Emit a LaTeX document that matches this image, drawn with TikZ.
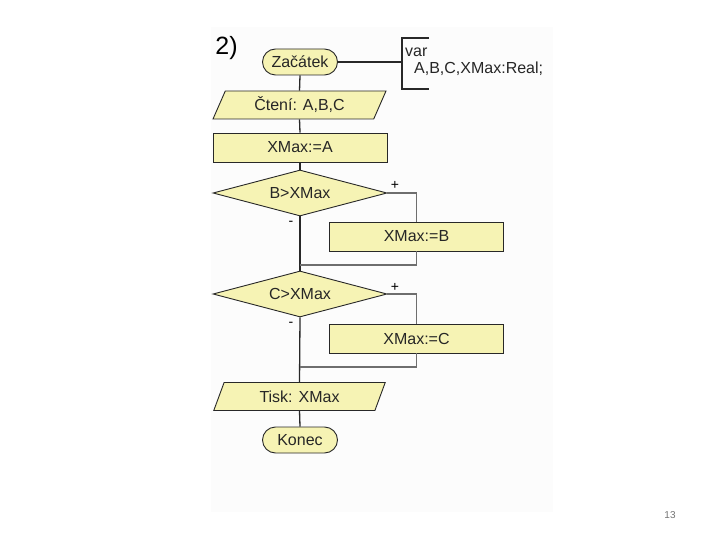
\documentclass[tikz,border=0pt]{standalone}
\usepackage{fontspec}
\setmainfont{Liberation Sans}
\usetikzlibrary{shapes.geometric}
\definecolor{boxfill}{RGB}{246,243,180}
\definecolor{mainline}{RGB}{40,40,40}
\definecolor{branchline}{RGB}{110,110,110}
\definecolor{panel}{RGB}{252,252,252}
\tikzset{
  txt/.style={font=\fontsize{16}{19}\selectfont, text=black!85},
  term/.style={txt, draw=mainline, line width=0.9pt, fill=boxfill, rounded corners=13pt, minimum width=75pt, minimum height=26pt, inner sep=0pt},
  io/.style={txt, draw=mainline, line width=0.9pt, fill=boxfill, trapezium, trapezium stretches=true, trapezium left angle=65, trapezium right angle=115, minimum width=173pt, minimum height=28pt, inner sep=0pt},
  proc/.style={txt, draw=mainline, line width=0.9pt, fill=boxfill, rectangle, minimum width=174pt, minimum height=29pt, inner sep=0pt},
  dec/.style={txt, draw=mainline, line width=0.9pt, fill=boxfill, diamond, aspect=3.8, minimum width=174pt, minimum height=46pt, inner sep=0pt},
  flow/.style={draw=mainline, line width=1.3pt},
  branch/.style={draw=branchline, line width=1.3pt},
  sign/.style={font=\fontsize{14}{16}\selectfont, inner sep=0pt}
}
\begin{document}
\begin{tikzpicture}[x=1pt,y=-1pt]
\useasboundingbox (0,0) rectangle (720,540);
\fill[panel] (211,27) rectangle (553,512);

\node[font=\fontsize{25}{28}\selectfont, inner sep=0pt] (lbl) at (226.5,48) {2)};

\node[term] (start) at (300,62) {Začátek};
\node[io] (read) at (299.5,105) {Čtení: A,B,C};
\node[proc] (init) at (300,147.5) {XMax:=A};
\node[dec] (d1) at (300,193) {B>XMax};
\node[proc] (b1) at (416.5,236.5) {XMax:=B};
\node[dec] (d2) at (300,294) {C>XMax};
\node[proc] (b2) at (416.5,338.5) {XMax:=C};
\node[io] (out) at (299.5,396.5) {Tisk: XMax};
\node[term] (stop) at (300,440) {Konec};

% declaration bracket
\coordinate (bt) at (429,38);
\coordinate (btl) at (402,38);
\coordinate (bbl) at (402,89);
\coordinate (bb) at (429,89);
\coordinate (bm) at (402,62);
\draw[mainline, line width=1.1pt] (bt) -- (btl) -- (bbl) -- (bb);
\node[txt, anchor=west, inner sep=0pt] (var) at (405,52) {var};
\node[txt, anchor=west, inner sep=0pt] (decl) at (414,69) {A,B,C,XMax:Real;};
\draw[mainline, line width=1.1pt] (start.east) -- (bm);

% main flow
\draw[flow] (start.south) -- (read.north);
\draw[flow] (read.south) -- (init.north);
\draw[flow] (init.south) -- (d1.north);
\draw[flow] (d1.south) -- (d2.north);
\draw[flow] (d2.south) -- (out.north);
\draw[flow] (out.south) -- (stop.north);

% branches
\coordinate (j1) at (300,265);
\coordinate (j2) at (300,367);
\draw[branch] (d1.east) -| (b1.north);
\draw[branch] (b1.south) |- (j1);
\draw[branch] (d2.east) -| (b2.north);
\draw[branch] (b2.south) |- (j2);

\node[sign] (p1) at (395,185) {+};
\node[sign] (m1) at (291,223) {-};
\node[sign] (p2) at (395,287) {+};
\node[sign] (m2) at (291,324) {-};

\node[font=\fontsize{10}{12}\selectfont, text=black!55, inner sep=0pt] (pg) at (670,515.5) {13};
\end{tikzpicture}
\end{document}
